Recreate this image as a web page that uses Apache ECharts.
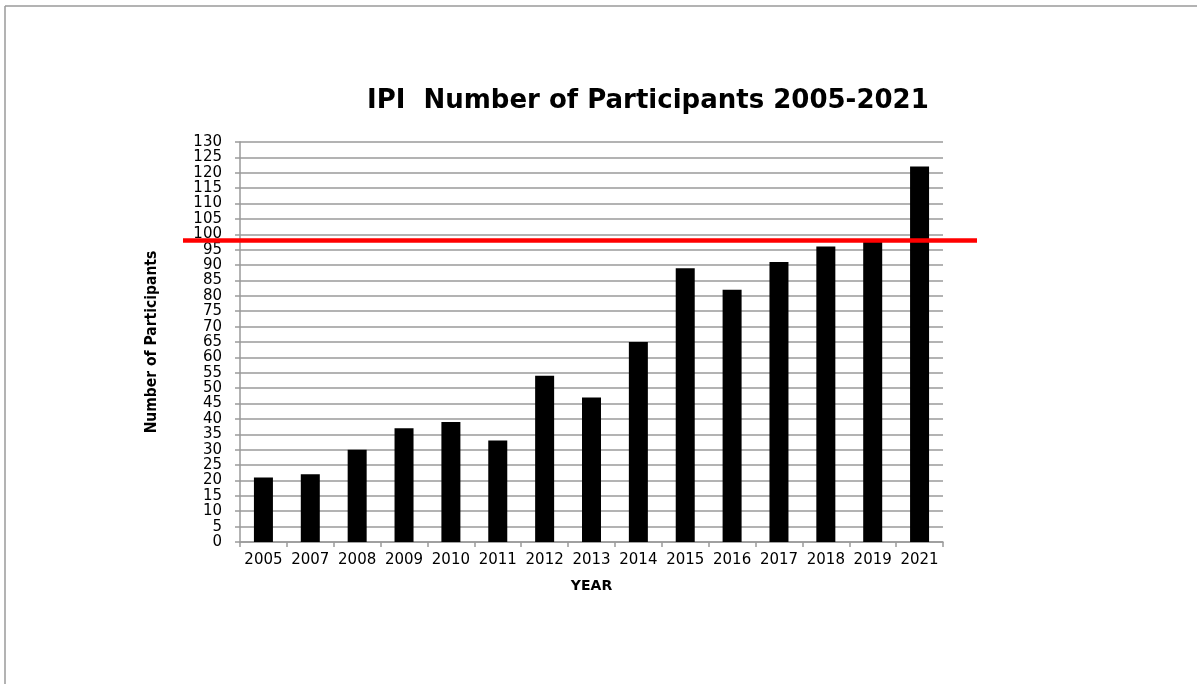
<!DOCTYPE html>
<html>
<head>
<meta charset="utf-8">
<script src="https://cdn.jsdelivr.net/npm/echarts@6/dist/echarts.min.js"></script>
<style>
  html, body { margin: 0; padding: 0; background: #fff; }
  #chart { width: 1197px; height: 684px; }
</style>
</head>
<body>
<div id="chart"></div>
<script>
// Yearly participant counts
const years = ['2005', '2007', '2008', '2009', '2010', '2011', '2012', '2013', '2014', '2015', '2016', '2017', '2018', '2019', '2021'];
const participants = [21, 22, 30, 37, 39, 33, 54, 47, 65, 89, 82, 91, 96, 98, 122];
// Reference level drawn as a red rule across the chart
const referenceLevel = 98;
const yMin = 0, yMax = 130, yStep = 5;

const chart = echarts.init(document.getElementById('chart'), null, { renderer: 'canvas' });

const gridColor = '#9a9a9a';
const sans = "'DejaVu Sans', Verdana, sans-serif";
const narrow = "'DejaVu Sans Condensed', 'Liberation Sans Narrow', 'Roboto Condensed', 'Noto Sans', sans-serif";

chart.setOption({
  animation: false,
  backgroundColor: '#ffffff',
  title: {
    text: 'IPI  Number of Participants 2005-2021',
    left: 362,
    top: 83,
    textStyle: { fontFamily: sans, fontWeight: 'bold', fontSize: 26, color: '#000' }
  },
  grid: { left: 240, right: 254, top: 142, bottom: 142, containLabel: false },
  xAxis: {
    type: 'category',
    data: years,
    name: 'YEAR',
    nameLocation: 'middle',
    nameGap: 37,
    nameTextStyle: { fontFamily: sans, fontWeight: 'bold', fontSize: 14, color: '#000' },
    axisLine: { lineStyle: { color: gridColor, width: 1.5 } },
    axisTick: { show: true, length: 5, alignWithLabel: false, lineStyle: { color: gridColor, width: 1.5 } },
    axisLabel: { fontFamily: sans, fontSize: 15, color: '#000', margin: 11, interval: 0 }
  },
  yAxis: {
    type: 'value',
    min: yMin,
    max: yMax,
    interval: yStep,
    name: 'Number of Participants',
    nameLocation: 'middle',
    nameRotate: 90,
    nameGap: 80,
    nameTextStyle: { fontFamily: narrow, fontWeight: 'bold', fontSize: 15.5, color: '#000' },
    axisLine: { show: true, lineStyle: { color: gridColor, width: 1.5 } },
    axisTick: { show: true, length: 5, lineStyle: { color: gridColor, width: 1.5 } },
    axisLabel: { fontFamily: sans, fontSize: 15, color: '#000', margin: 18 },
    splitLine: { show: true, lineStyle: { color: gridColor, width: 1.5 } }
  },
  series: [{
    type: 'bar',
    data: participants,
    barWidth: 19,
    itemStyle: { color: '#000000' }
  }]
});

// Frame and reference rule, placed from the axis scale
const refY = chart.convertToPixel({ yAxisIndex: 0 }, referenceLevel);
chart.setOption({
  graphic: [
    { type: 'line', shape: { x1: 5, y1: 6, x2: 1197, y2: 6 }, style: { stroke: '#9a9a9a', lineWidth: 1.5 }, silent: true },
    { type: 'line', shape: { x1: 5, y1: 6, x2: 5, y2: 684 }, style: { stroke: '#9a9a9a', lineWidth: 1.5 }, silent: true },
    { type: 'line', shape: { x1: 183, y1: refY, x2: 977, y2: refY }, style: { stroke: '#ff0000', lineWidth: 4.5 }, z: 100, silent: true }
  ]
});
</script>
</body>
</html>
